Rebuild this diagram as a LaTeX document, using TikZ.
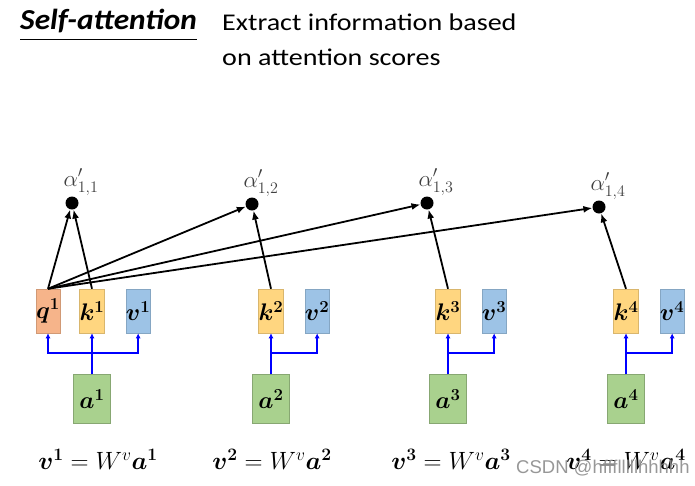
\RequirePackage{fix-cm}
\documentclass[tikz,border=0pt]{standalone}
\usepackage{amsmath}
\usepackage{bm}
\usepackage{fontspec}
\setmainfont{Carlito}
\newfontfamily\titlefont[FakeStretch=1.08]{Carlito}
\newfontfamily\headfont[FakeStretch=1.17]{Carlito}
\newfontfamily\markfont{Liberation Sans}
\usepackage{tikz}
\usetikzlibrary{positioning, arrows.meta, calc}

\definecolor{qcol}{RGB}{246,180,138}
\definecolor{kcol}{RGB}{255,214,128}
\definecolor{vcol}{RGB}{157,195,230}
\definecolor{acol}{RGB}{169,209,142}

\begin{document}
\begin{tikzpicture}[x=1pt, y=-1pt, >=latex,
    vec/.style={line width=0.5pt, minimum width=24pt, minimum height=44pt, inner sep=0pt,
      font=\fontsize{24}{24}\selectfont},
    qbox/.style={vec, fill=qcol, draw=qcol!85!black},
    kbox/.style={vec, fill=kcol, draw=kcol!85!black},
    vbox/.style={vec, fill=vcol, draw=vcol!85!black},
    abox/.style={vec, fill=acol, draw=acol!80!black, minimum width=37pt, minimum height=49pt},
    score/.style={circle, fill=black, inner sep=0pt, minimum size=13pt},
    feed/.style={blue, line width=1.8pt, -{Latex[length=5pt,width=5pt]}},
    attn/.style={line width=1.8pt, -{Latex[length=9pt,width=7pt]}}]

  \useasboundingbox (0,0) rectangle (695,485);

  % heading
  \node[anchor=base west, inner sep=0pt, font=\titlefont\fontsize{29}{29}\selectfont\bfseries\itshape] (title) at (20,29) {Self-attention};
  \draw[line width=0.8pt] ([yshift=-10pt]title.base west) -- ([yshift=-10pt]title.base east);
  \node[anchor=base west, inner sep=0pt, font=\headfont\fontsize{24}{24}\selectfont] (line1) at (222,30) {Extract information based};
  \node[anchor=base west, inner sep=0pt, font=\headfont\fontsize{24}{24}\selectfont] (line2) at (222,65) {on attention scores};

  % query of the first input
  \node[qbox] (q1) at (48,311) {$\bm{q^{1}}$};

  % keys, values and inputs
  \foreach \i/\x/\e in {1/92/98, 2/271/272, 3/448/451, 4/626/626} {
    \node[kbox] (k\i) at (\x,311) {$\bm{k^{\i}}$};
    \node[vbox, right=21pt of k\i] (v\i) {$\bm{v^{\i}}$};
    \node[abox] (a\i) at (\x,399) {$\bm{a^{\i}}$};
    \coordinate (j\i) at (\x,353);
    \draw[feed] (a\i.north) -- (k\i.south);
    \draw[feed] (j\i) -| (v\i.south);
    \node[font=\fontsize{25}{25}\selectfont] (eq\i) at (\e,459) {$\bm{v^{\i}} = W^{v}\bm{a^{\i}}$};
  }
  \draw[feed] (j1) -| (q1.south);

  % attention scores
  \foreach \i/\x/\y in {1/72/203, 2/252/204, 3/427/203, 4/599/207} {
    \node[score] (s\i) at (\x,\y) {};
    \node[text=black!75, font=\fontsize{23}{23}\selectfont] (l\i) at ($(s\i)+(9,-21)$) {$\alpha'_{1,\i}$};
    \draw[attn] (k\i.north) -- (s\i);
    \draw[attn] (q1.north) -- (s\i);
  }

  % watermark
  \node[anchor=base west, inner sep=0pt, text=black!45, opacity=0.9, font=\markfont\fontsize{18.5}{18.5}\selectfont] (mark) at (516,473) {CSDN @hffflllllhhhhh};
\end{tikzpicture}
\end{document}
